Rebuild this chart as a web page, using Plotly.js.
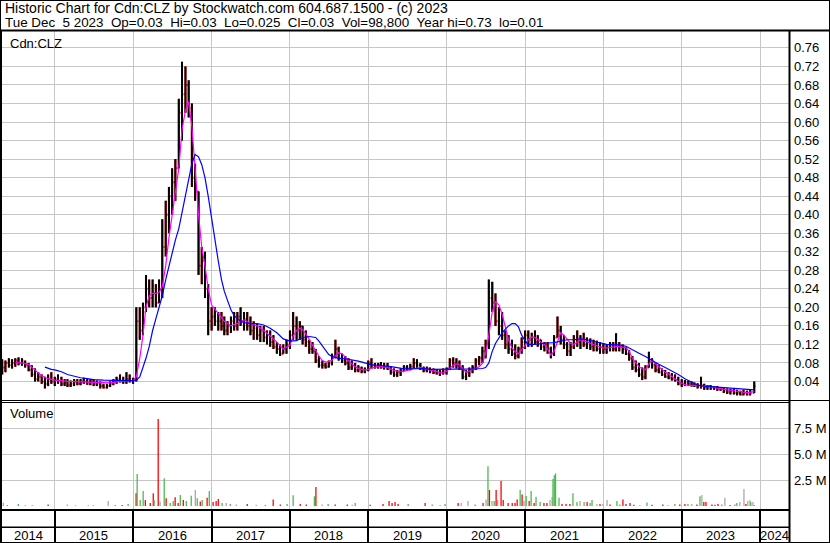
<!DOCTYPE html>
<html><head><meta charset="utf-8">
<script src="https://cdn.plot.ly/plotly-3.0.1.min.js"></script>
<style>
html,body{margin:0;padding:0;background:#fff;}
#chart{width:830px;height:543px;}
</style>
</head><body><div id="chart"></div>
<script>
// ---------- DATA ----------
const headerLines = [
  "Historic Chart for Cdn:CLZ by Stockwatch.com 604.687.1500 - (c) 2023",
  "Tue Dec  5 2023  Op=0.03  Hi=0.03  Lo=0.025  Cl=0.03  Vol=98,800  Year hi=0.73  lo=0.01"
];
const symbolLabel = "Cdn:CLZ";
const volumeLabel = "Volume";
const yearLabels = ["2014","2015","2016","2017","2018","2019","2020","2021","2022","2023","2024"];
const priceTicks = [0.04,0.08,0.12,0.16,0.20,0.24,0.28,0.32,0.36,0.40,0.44,0.48,0.52,0.56,0.60,0.64,0.68,0.72,0.76];
const volTickVals = [2.5,5.0,7.5];
const volTickText = ["2.5 M","5.0 M","7.5 M"];

const barDates = `
2014-05-01 2014-05-16 2014-06-01 2014-06-16 2014-07-01 2014-07-16 2014-08-01 2014-08-16 2014-09-01 2014-09-16 2014-10-01 2014-10-16 2014-11-01 2014-11-16 2014-12-01 2014-12-16
2015-01-01 2015-01-16 2015-02-01 2015-02-16 2015-03-01 2015-03-16 2015-04-01 2015-04-16 2015-05-01 2015-05-16 2015-06-01 2015-06-16 2015-07-01 2015-07-16 2015-08-01 2015-08-16 2015-09-01 2015-09-16 2015-10-01 2015-10-16 2015-11-01 2015-11-16 2015-12-01 2015-12-16
2016-01-01 2016-01-16 2016-02-01 2016-02-16 2016-03-01 2016-03-16 2016-04-01 2016-04-16 2016-05-01 2016-05-16 2016-06-01 2016-06-16 2016-07-01 2016-07-16 2016-08-01 2016-08-16 2016-09-01 2016-09-16 2016-10-01 2016-10-16 2016-11-01 2016-11-16 2016-12-01 2016-12-16
2017-01-01 2017-01-16 2017-02-01 2017-02-16 2017-03-01 2017-03-16 2017-04-01 2017-04-16 2017-05-01 2017-05-16 2017-06-01 2017-06-16 2017-07-01 2017-07-16 2017-08-01 2017-08-16 2017-09-01 2017-09-16 2017-10-01 2017-10-16 2017-11-01 2017-11-16 2017-12-01 2017-12-16
2018-01-01 2018-01-16 2018-02-01 2018-02-16 2018-03-01 2018-03-16 2018-04-01 2018-04-16 2018-05-01 2018-05-16 2018-06-01 2018-06-16 2018-07-01 2018-07-16 2018-08-01 2018-08-16 2018-09-01 2018-09-16 2018-10-01 2018-10-16 2018-11-01 2018-11-16 2018-12-01 2018-12-16
2019-01-01 2019-01-16 2019-02-01 2019-02-16 2019-03-01 2019-03-16 2019-04-01 2019-04-16 2019-05-01 2019-05-16 2019-06-01 2019-06-16 2019-07-01 2019-07-16 2019-08-01 2019-08-16 2019-09-01 2019-09-16 2019-10-01 2019-10-16 2019-11-01 2019-11-16 2019-12-01 2019-12-16
2020-01-01 2020-01-16 2020-02-01 2020-02-16 2020-03-01 2020-03-16 2020-04-01 2020-04-16 2020-05-01 2020-05-16 2020-06-01 2020-06-16 2020-07-01 2020-07-16 2020-08-01 2020-08-16 2020-09-01 2020-09-16 2020-10-01 2020-10-16 2020-11-01 2020-11-16 2020-12-01 2020-12-16
2021-01-01 2021-01-16 2021-02-01 2021-02-16 2021-03-01 2021-03-16 2021-04-01 2021-04-16 2021-05-01 2021-05-16 2021-06-01 2021-06-16 2021-07-01 2021-07-16 2021-08-01 2021-08-16 2021-09-01 2021-09-16 2021-10-01 2021-10-16 2021-11-01 2021-11-16 2021-12-01 2021-12-16
2022-01-01 2022-01-16 2022-02-01 2022-02-16 2022-03-01 2022-03-16 2022-04-01 2022-04-16 2022-05-01 2022-05-16 2022-06-01 2022-06-16 2022-07-01 2022-07-16 2022-08-01 2022-08-16 2022-09-01 2022-09-16 2022-10-01 2022-10-16 2022-11-01 2022-11-16 2022-12-01 2022-12-16
2023-01-01 2023-01-16 2023-02-01 2023-02-16 2023-03-01 2023-03-16 2023-04-01 2023-04-16 2023-05-01 2023-05-16 2023-06-01 2023-06-16 2023-07-01 2023-07-16 2023-08-01 2023-08-16 2023-09-01 2023-09-16 2023-10-01 2023-10-16 2023-11-01 2023-11-16 2023-12-05
`.trim().split(/\s+/);

const barOpen = [
0.075,0.07,0.08,0.075,0.08,0.085,0.08,0.082,0.075,0.065,0.055,0.045,0.05,0.04,0.035,0.045,
0.04,0.045,0.04,0.035,0.04,0.032,0.035,0.04,0.035,0.04,0.04,0.035,0.04,0.035,0.035,0.03,0.027,0.03,0.035,0.04,0.045,0.04,0.04,0.045,
0.04,0.045,0.17,0.15,0.2,0.24,0.22,0.23,0.21,0.24,0.33,0.40,0.44,0.47,0.50,0.62,0.66,0.68,0.63,0.48,0.45,0.29,0.30,0.24,
0.17,0.18,0.17,0.17,0.16,0.15,0.16,0.17,0.16,0.18,0.17,0.175,0.16,0.15,0.155,0.14,0.15,0.135,0.14,0.125,0.115,0.11,0.10,0.11,
0.12,0.14,0.16,0.15,0.16,0.13,0.125,0.11,0.105,0.085,0.075,0.075,0.072,0.08,0.095,0.11,0.09,0.085,0.08,0.07,0.075,0.065,0.068,0.062,
0.065,0.08,0.075,0.072,0.075,0.07,0.072,0.068,0.06,0.055,0.06,0.062,0.07,0.068,0.072,0.08,0.075,0.068,0.065,0.068,0.062,0.06,0.058,0.06,
0.06,0.068,0.085,0.08,0.075,0.07,0.05,0.06,0.065,0.07,0.085,0.09,0.105,0.12,0.22,0.21,0.17,0.16,0.14,0.12,0.11,0.10,0.095,0.11,
0.125,0.14,0.13,0.135,0.125,0.13,0.115,0.12,0.11,0.10,0.135,0.15,0.13,0.12,0.105,0.115,0.13,0.125,0.13,0.12,0.125,0.115,0.12,0.11,
0.115,0.11,0.115,0.12,0.11,0.12,0.115,0.11,0.10,0.09,0.07,0.065,0.055,0.05,0.07,0.085,0.075,0.065,0.06,0.055,0.05,0.048,0.045,0.042,
0.035,0.035,0.038,0.035,0.033,0.032,0.03,0.032,0.028,0.03,0.027,0.028,0.025,0.025,0.02,0.018,0.02,0.015,0.015,0.012,0.015,0.012,0.015
];
const barHigh = [
0.088,0.085,0.09,0.088,0.09,0.092,0.09,0.085,0.08,0.075,0.068,0.06,0.055,0.05,0.055,0.06,
0.05,0.055,0.05,0.045,0.045,0.042,0.045,0.045,0.045,0.048,0.045,0.045,0.045,0.042,0.04,0.035,0.035,0.04,0.045,0.05,0.055,0.05,0.06,0.055,
0.048,0.20,0.20,0.21,0.27,0.26,0.26,0.25,0.26,0.39,0.43,0.46,0.50,0.52,0.65,0.73,0.72,0.69,0.64,0.51,0.45,0.33,0.32,0.25,
0.20,0.20,0.19,0.19,0.18,0.17,0.18,0.19,0.19,0.20,0.19,0.19,0.18,0.17,0.165,0.16,0.16,0.15,0.15,0.14,0.125,0.12,0.12,0.13,
0.15,0.19,0.18,0.17,0.16,0.15,0.13,0.125,0.11,0.095,0.085,0.08,0.085,0.10,0.13,0.115,0.10,0.095,0.09,0.085,0.08,0.075,0.072,0.07,
0.085,0.09,0.08,0.08,0.082,0.08,0.08,0.072,0.068,0.065,0.068,0.075,0.075,0.078,0.09,0.088,0.08,0.072,0.072,0.07,0.068,0.066,0.065,0.068,
0.07,0.09,0.092,0.09,0.085,0.075,0.065,0.07,0.075,0.09,0.095,0.115,0.13,0.26,0.255,0.23,0.20,0.19,0.15,0.14,0.13,0.12,0.115,0.135,
0.15,0.15,0.145,0.15,0.14,0.13,0.125,0.125,0.115,0.14,0.18,0.16,0.14,0.125,0.125,0.14,0.15,0.14,0.145,0.135,0.133,0.13,0.128,0.125,
0.122,0.12,0.125,0.125,0.144,0.125,0.12,0.115,0.108,0.095,0.085,0.08,0.07,0.075,0.104,0.09,0.08,0.075,0.068,0.065,0.06,0.058,0.055,0.05,
0.045,0.043,0.042,0.04,0.038,0.036,0.05,0.035,0.032,0.032,0.03,0.03,0.028,0.026,0.025,0.024,0.024,0.022,0.02,0.022,0.02,0.022,0.04
];
const barLow = [
0.055,0.06,0.07,0.068,0.072,0.075,0.074,0.07,0.062,0.05,0.04,0.04,0.035,0.025,0.03,0.035,
0.03,0.035,0.03,0.03,0.028,0.028,0.03,0.032,0.032,0.035,0.033,0.032,0.03,0.03,0.025,0.025,0.025,0.028,0.032,0.035,0.038,0.035,0.035,0.038,
0.035,0.04,0.13,0.14,0.19,0.20,0.20,0.20,0.21,0.22,0.31,0.36,0.40,0.43,0.50,0.56,0.62,0.61,0.46,0.43,0.27,0.25,0.22,0.14,
0.15,0.16,0.15,0.15,0.14,0.14,0.145,0.15,0.15,0.16,0.15,0.15,0.14,0.13,0.13,0.125,0.125,0.12,0.115,0.11,0.10,0.095,0.10,0.10,
0.11,0.13,0.13,0.13,0.12,0.115,0.10,0.10,0.08,0.07,0.068,0.068,0.07,0.075,0.09,0.085,0.08,0.075,0.065,0.065,0.06,0.06,0.058,0.058,
0.062,0.068,0.068,0.068,0.068,0.066,0.065,0.055,0.05,0.05,0.052,0.062,0.063,0.064,0.068,0.068,0.065,0.06,0.06,0.058,0.056,0.055,0.052,0.055,
0.055,0.065,0.07,0.068,0.065,0.045,0.043,0.05,0.058,0.065,0.075,0.08,0.09,0.11,0.19,0.16,0.14,0.13,0.11,0.10,0.095,0.088,0.09,0.10,
0.11,0.115,0.115,0.12,0.115,0.108,0.105,0.10,0.09,0.095,0.135,0.12,0.11,0.095,0.095,0.11,0.115,0.11,0.115,0.11,0.108,0.105,0.105,0.10,
0.10,0.10,0.105,0.105,0.105,0.105,0.10,0.097,0.085,0.065,0.06,0.05,0.043,0.045,0.07,0.068,0.06,0.058,0.052,0.048,0.045,0.042,0.04,0.032,
0.028,0.03,0.03,0.029,0.028,0.025,0.025,0.022,0.022,0.022,0.022,0.02,0.02,0.015,0.013,0.012,0.012,0.01,0.01,0.01,0.01,0.01,0.015
];
const barClose = [
0.07,0.08,0.075,0.08,0.085,0.08,0.085,0.075,0.065,0.055,0.045,0.05,0.04,0.035,0.045,0.04,
0.045,0.04,0.035,0.04,0.032,0.035,0.04,0.035,0.04,0.04,0.035,0.04,0.035,0.035,0.03,0.027,0.03,0.035,0.04,0.045,0.04,0.04,0.045,0.045,
0.045,0.17,0.15,0.19,0.24,0.22,0.23,0.21,0.24,0.33,0.40,0.44,0.47,0.50,0.62,0.66,0.68,0.63,0.48,0.45,0.29,0.30,0.24,0.17,
0.18,0.17,0.17,0.16,0.15,0.16,0.17,0.16,0.18,0.17,0.175,0.16,0.15,0.155,0.14,0.15,0.135,0.14,0.125,0.115,0.11,0.10,0.11,0.12,
0.14,0.16,0.15,0.16,0.13,0.125,0.11,0.105,0.085,0.075,0.075,0.072,0.08,0.095,0.11,0.09,0.085,0.08,0.07,0.075,0.065,0.068,0.062,0.065,
0.08,0.075,0.072,0.075,0.07,0.072,0.068,0.06,0.055,0.06,0.062,0.07,0.068,0.072,0.08,0.075,0.068,0.065,0.068,0.062,0.06,0.058,0.06,0.062,
0.068,0.085,0.08,0.075,0.07,0.05,0.06,0.065,0.07,0.085,0.09,0.105,0.12,0.22,0.21,0.17,0.16,0.14,0.12,0.11,0.10,0.095,0.11,0.125,
0.14,0.13,0.135,0.125,0.13,0.115,0.12,0.11,0.10,0.135,0.15,0.13,0.12,0.105,0.115,0.13,0.125,0.13,0.12,0.125,0.115,0.12,0.11,0.115,
0.11,0.115,0.12,0.11,0.12,0.115,0.11,0.10,0.09,0.07,0.065,0.055,0.05,0.07,0.085,0.075,0.065,0.06,0.055,0.05,0.048,0.045,0.042,0.035,
0.035,0.038,0.035,0.033,0.032,0.03,0.032,0.028,0.03,0.027,0.028,0.025,0.025,0.02,0.018,0.02,0.015,0.015,0.012,0.015,0.012,0.015,0.03
];

// magenta (short) moving average
const maShortDates = `
2014-07-01 2014-08-01 2014-09-01 2014-10-01 2014-11-01 2014-12-01 2015-01-01 2015-03-01 2015-06-01 2015-09-16 2015-11-01 2015-12-16
2016-01-01 2016-01-16 2016-02-01 2016-02-16 2016-03-01 2016-03-16 2016-04-01 2016-04-16 2016-05-01 2016-05-16 2016-06-01 2016-06-16 2016-07-01 2016-07-16 2016-08-01 2016-08-16 2016-09-01 2016-09-16 2016-10-01 2016-10-16 2016-11-01 2016-11-16 2016-12-01 2016-12-16
2017-01-01 2017-02-01 2017-03-01 2017-04-01 2017-05-01 2017-06-01 2017-07-01 2017-08-01 2017-09-01 2017-10-01 2017-11-01 2017-12-01
2018-01-01 2018-01-16 2018-02-01 2018-02-16 2018-03-01 2018-03-16 2018-04-01 2018-04-16 2018-05-01 2018-05-16 2018-06-01 2018-06-16 2018-07-01 2018-07-16 2018-08-01 2018-08-16 2018-09-01 2018-09-16 2018-10-01 2018-10-16 2018-11-01 2018-11-16 2018-12-01 2018-12-16
2019-01-01 2019-02-01 2019-03-01 2019-04-01 2019-05-01 2019-06-01 2019-07-01 2019-08-01 2019-09-01 2019-10-01 2019-11-01 2019-12-01 2019-12-16
2020-01-01 2020-01-16 2020-02-01 2020-02-16 2020-03-01 2020-03-16 2020-04-01 2020-04-16 2020-05-01 2020-05-16 2020-06-01 2020-06-16 2020-07-01 2020-07-16 2020-08-01 2020-08-16 2020-09-01 2020-09-16 2020-10-01 2020-10-16 2020-11-01 2020-11-16 2020-12-01 2020-12-16
2021-01-01 2021-01-16 2021-02-01 2021-02-16 2021-03-01 2021-03-16 2021-04-01 2021-04-16 2021-05-01 2021-05-16 2021-06-01 2021-06-16 2021-07-01 2021-07-16 2021-08-01 2021-08-16 2021-09-01 2021-09-16 2021-10-01 2021-10-16 2021-11-01 2021-11-16 2021-12-01 2021-12-16
2022-01-01 2022-02-01 2022-03-01 2022-04-01 2022-04-16 2022-05-01 2022-05-16 2022-06-01 2022-06-16 2022-07-01 2022-07-16 2022-08-01 2022-08-16 2022-09-01 2022-09-16 2022-10-01 2022-10-16 2022-11-01 2022-11-16 2022-12-01 2022-12-16
2023-01-01 2023-01-16 2023-02-01 2023-03-01 2023-04-01 2023-05-01 2023-06-01 2023-07-01 2023-08-01 2023-09-01 2023-10-01 2023-11-01 2023-12-05
`.trim().split(/\s+/);
const maShortVals = [
0.08,0.08,0.077,0.065,0.052,0.046,0.043,0.04,0.039,0.037,0.04,0.041,
0.042,0.05,0.09,0.14,0.20,0.225,0.23,0.23,0.232,0.245,0.29,0.35,0.40,0.45,0.50,0.583,0.625,0.644,0.59,0.50,0.40,0.33,0.29,0.24,
0.205,0.187,0.17,0.16,0.165,0.173,0.165,0.16,0.15,0.138,0.125,0.11,
0.118,0.138,0.15,0.155,0.152,0.143,0.13,0.118,0.106,0.095,0.085,0.082,0.083,0.086,0.095,0.102,0.10,0.092,0.085,0.078,0.072,0.068,0.066,0.065,
0.066,0.071,0.072,0.07,0.064,0.061,0.064,0.068,0.07,0.067,0.063,0.059,0.058,
0.062,0.068,0.075,0.078,0.076,0.068,0.06,0.062,0.066,0.068,0.072,0.079,0.10,0.14,0.19,0.212,0.205,0.185,0.155,0.13,0.112,0.104,0.10,0.108,
0.118,0.13,0.136,0.135,0.13,0.125,0.12,0.11,0.097,0.105,0.125,0.145,0.14,0.13,0.122,0.12,0.125,0.13,0.128,0.126,0.122,0.12,0.118,0.115,
0.112,0.113,0.116,0.115,0.113,0.105,0.09,0.08,0.072,0.067,0.065,0.078,0.086,0.078,0.072,0.065,0.06,0.056,0.05,0.045,0.04,
0.036,0.033,0.032,0.032,0.031,0.03,0.027,0.025,0.022,0.02,0.018,0.016,0.018
];

// blue (long) moving average
const maLongDates = `
2014-11-16 2014-12-01 2014-12-16 2015-01-01 2015-02-01 2015-03-01 2015-04-01 2015-05-01 2015-06-01 2015-07-01 2015-08-16 2015-10-01 2015-12-01
2016-01-01 2016-01-16 2016-02-01 2016-02-16 2016-03-01 2016-03-16 2016-04-01 2016-04-16 2016-05-01 2016-05-16 2016-06-01 2016-06-16 2016-07-01 2016-07-16 2016-08-01 2016-08-16 2016-09-01 2016-09-16 2016-10-01 2016-10-16 2016-11-01 2016-11-16 2016-12-01 2016-12-16
2017-01-01 2017-01-16 2017-02-01 2017-02-16 2017-03-01 2017-03-16 2017-04-01 2017-04-16 2017-05-01 2017-05-16 2017-06-01 2017-07-01 2017-08-01 2017-09-01 2017-10-01 2017-11-01 2017-12-01
2018-01-01 2018-02-01 2018-03-01 2018-04-01 2018-05-01 2018-05-16 2018-06-01 2018-06-16 2018-07-01 2018-07-16 2018-08-16 2018-09-16 2018-10-16 2018-11-16 2018-12-16
2019-01-16 2019-02-16 2019-03-16 2019-04-16 2019-05-16 2019-06-16 2019-07-16 2019-08-16 2019-09-16 2019-10-16 2019-11-16 2019-12-16
2020-01-16 2020-02-16 2020-04-01 2020-05-16 2020-06-16 2020-07-01 2020-07-16 2020-08-01 2020-08-16 2020-09-01 2020-09-16 2020-10-01 2020-10-16 2020-11-01 2020-11-16 2020-12-01 2020-12-16
2021-01-01 2021-01-16 2021-02-16 2021-03-16 2021-04-16 2021-05-16 2021-06-16 2021-07-16 2021-08-16 2021-09-16 2021-10-16 2021-11-16 2021-12-16
2022-01-16 2022-02-16 2022-03-16 2022-04-16 2022-05-16 2022-06-16 2022-07-16 2022-08-16 2022-09-16 2022-10-16 2022-11-16 2022-12-16
2023-01-16 2023-02-16 2023-03-16 2023-04-16 2023-05-16 2023-06-16 2023-07-16 2023-08-16 2023-09-16 2023-10-16 2023-11-16 2023-12-05
`.trim().split(/\s+/);
const maLongVals = [
0.071,0.068,0.066,0.065,0.061,0.055,0.051,0.048,0.046,0.044,0.043,0.042,0.042,
0.042,0.043,0.05,0.07,0.09,0.115,0.15,0.175,0.20,0.225,0.26,0.29,0.315,0.345,0.37,0.405,0.44,0.475,0.51,0.53,0.525,0.508,0.48,0.44,
0.39,0.34,0.30,0.26,0.235,0.215,0.195,0.182,0.175,0.17,0.167,0.165,0.165,0.162,0.155,0.145,0.132,
0.127,0.128,0.135,0.137,0.135,0.127,0.117,0.106,0.098,0.094,0.09,0.089,0.087,0.084,0.08,
0.076,0.075,0.074,0.072,0.07,0.067,0.067,0.068,0.068,0.066,0.066,0.066,
0.066,0.067,0.067,0.067,0.068,0.07,0.08,0.105,0.122,0.135,0.145,0.153,0.16,0.165,0.165,0.158,0.14,
0.128,0.12,0.12,0.122,0.123,0.124,0.127,0.13,0.13,0.132,0.13,0.127,0.123,
0.12,0.119,0.119,0.116,0.108,0.101,0.094,0.085,0.077,0.07,0.063,0.055,
0.046,0.038,0.032,0.03,0.029,0.028,0.027,0.026,0.025,0.024,0.022,0.022
];

// daily volume spikes (millions of shares); u = up day, d = down day, n = unchanged
const volDates = `
2014-05-06 2014-05-25 2014-07-15 2014-08-17 2014-09-18 2014-12-01 2015-02-28 2015-04-07 2015-06-06 2015-06-29 2015-09-07 2015-10-10 2015-11-11 2015-12-09
2016-01-15 2016-01-20 2016-02-03 2016-02-17 2016-02-27 2016-03-21 2016-04-04 2016-04-08 2016-04-27 2016-05-06 2016-05-25 2016-06-03 2016-06-22 2016-07-06 2016-07-15 2016-07-29 2016-08-08 2016-08-22 2016-09-05 2016-09-28 2016-10-17 2016-10-26 2016-11-09 2016-11-18 2016-12-11 2016-12-21
2017-01-08 2017-01-22 2017-02-01 2017-02-19 2017-03-10 2017-03-29 2017-04-26 2017-06-16 2017-07-28 2017-09-08 2017-10-15 2017-11-17 2017-12-19
2018-01-16 2018-02-18 2018-03-18 2018-04-25 2018-05-02 2018-05-31 2018-06-28 2018-07-31 2018-09-25 2018-10-18 2018-11-01
2019-01-10 2019-03-11 2019-04-08 2019-04-22 2019-05-06 2019-05-20 2019-07-06 2019-09-23 2019-10-26 2019-12-02 2019-12-25
2020-02-24 2020-03-09 2020-04-10 2020-05-13 2020-06-19 2020-07-03 2020-07-12 2020-07-19 2020-07-31 2020-08-10 2020-08-19 2020-08-26 2020-09-11 2020-09-21 2020-10-14 2020-11-02 2020-11-15 2020-11-25 2020-12-09 2020-12-18 2020-12-27
2021-01-06 2021-01-20 2021-01-29 2021-02-12 2021-02-21 2021-03-12 2021-03-30 2021-04-13 2021-04-27 2021-05-07 2021-05-11 2021-05-17 2021-05-23 2021-06-08 2021-06-22 2021-07-11 2021-07-29 2021-08-12 2021-08-31 2021-09-14 2021-10-03 2021-10-17 2021-10-31 2021-11-09 2021-12-02 2021-12-16 2021-12-30
2022-01-18 2022-02-01 2022-03-05 2022-03-19 2022-04-02 2022-04-16 2022-05-05 2022-05-23 2022-06-20 2022-07-23 2022-08-15 2022-10-05 2022-10-28 2022-11-30 2022-12-23
2023-01-16 2023-01-30 2023-02-17 2023-03-13 2023-03-27 2023-04-05 2023-04-14 2023-04-24 2023-05-22 2023-06-05 2023-06-19 2023-07-07 2023-07-21 2023-08-14 2023-09-06 2023-09-15 2023-09-29 2023-10-18 2023-10-27 2023-11-05 2023-11-15 2023-11-19 2023-11-29 2023-12-05
`.trim().split(/\s+/);
const volValues = [
0.33,0.11,0.2,0.1,0.08,0.15,0.15,0.08,0.08,0.08,0.49,0.1,0.1,0.2,
1.24,3.11,0.6,1.46,0.6,0.3,1.24,0.6,8.44,0.45,2.69,0.75,0.3,0.5,0.85,0.3,1.08,0.6,0.5,1.01,1.56,0.75,0.45,0.6,0.82,1.46,
0.4,0.5,0.69,0.3,0.3,0.2,0.15,0.2,0.12,0.1,0.65,0.15,0.2,
1.05,0.2,0.15,0.95,1.85,0.15,0.2,0.15,0.15,0.12,0.3,
0.12,0.2,0.5,0.3,0.4,0.2,0.2,0.3,0.15,0.1,0.2,
0.3,0.3,0.5,0.15,0.3,0.65,3.85,1.56,0.5,0.5,1.56,0.6,2.43,0.6,0.3,0.3,0.3,0.65,1.56,1.13,0.5,
0.98,0.5,1.46,0.3,0.91,0.4,0.3,0.3,0.6,0.9,2.62,3.0,3.17,0.8,0.2,0.2,0.2,1.24,0.4,0.5,0.4,0.4,0.3,0.6,0.2,0.2,0.2,
0.6,0.15,0.5,0.15,0.65,0.2,0.3,0.12,0.1,0.35,0.12,0.15,0.1,0.2,0.15,
0.2,0.2,0.2,0.15,0.95,1.08,0.4,0.4,0.15,0.12,0.2,0.15,0.82,0.1,0.15,0.3,0.4,1.66,0.2,0.5,0.6,0.4,0.4,0.1
];
const volDir = (
"n u u n u d n n u u n u d u " +
"d u u u d d d u d n u d u u d d u d u u n u d u d u " +
"d d d u n u n d n u d d u " +
"u d d u d n u d d n u " +
"d d d d d d u d u n u " +
"d n n u d n u d n u d n d d d d d d u d n " +
"u d u d u u d d n n u u u u d d d u u n u d u u n d n " +
"n d u u d d d d n u d d n u d " +
"d u n d u n d d d d d u n d u u n n d n n u n u"
).trim().split(/\s+/);

// ---------- STYLE / LAYOUT ----------
const W = 830, H = 543;
const FONT = "'Liberation Sans', Arial, sans-serif";
const px = v => v / W;
const py = v => (H - v) / H;
const xRange = ['2014-04-30', '2024-05-15'];
const gridC = '#c6c6c6';
const volColor = {u: '#4db84d', d: '#ff0000', n: '#a8a8a8'};

const baseX = {
  type: 'date', range: xRange, domain: [px(2), px(789)],
  showgrid: true, gridcolor: gridC, gridwidth: 1,
  tick0: '2014-01-01', dtick: 'M12', showticklabels: false, ticks: '',
  zeroline: false, showline: false, fixedrange: true,
  rangeslider: {visible: false}
};

const traces = [
  {type: 'ohlc', x: barDates, open: barOpen, high: barHigh, low: barLow, close: barClose,
   xaxis: 'x', yaxis: 'y', tickwidth: 0.5, hoverinfo: 'skip',
   increasing: {line: {color: '#ff0000', width: 2}}, decreasing: {line: {color: '#ff0000', width: 2}}},
  {type: 'ohlc', x: barDates, open: barOpen, high: barHigh, low: barLow, close: barClose,
   xaxis: 'x', yaxis: 'y', tickwidth: 0, hoverinfo: 'skip',
   increasing: {line: {color: '#000000', width: 2}}, decreasing: {line: {color: '#000000', width: 2}}},
  {type: 'scatter', mode: 'lines', x: maShortDates, y: maShortVals, xaxis: 'x', yaxis: 'y',
   line: {color: '#ff00ff', width: 1.2}, hoverinfo: 'skip'},
  {type: 'scatter', mode: 'lines', x: maLongDates, y: maLongVals, xaxis: 'x', yaxis: 'y',
   line: {color: '#0000ff', width: 1.2}, hoverinfo: 'skip'},
  {type: 'bar', x: volDates, y: volValues, xaxis: 'x2', yaxis: 'y2',
   width: 6 * 86400000, marker: {color: volDir.map(d => volColor[d]), line: {width: 0}}, hoverinfo: 'skip'},
  {type: 'scatter', mode: 'markers', x: [], y: [], xaxis: 'x3', yaxis: 'y3', hoverinfo: 'skip'}
];

const shapes = [];
function hline(y, x0, x1, w) { shapes.push({type: 'line', xref: 'paper', yref: 'paper', x0: x0, x1: x1, y0: py(y), y1: py(y), line: {color: '#000', width: w}}); }
function vline(x, y0, y1, w) { shapes.push({type: 'line', xref: 'paper', yref: 'paper', x0: px(x), x1: px(x), y0: py(y0), y1: py(y1), line: {color: '#000', width: w}}); }
shapes.push({type: 'rect', xref: 'paper', yref: 'paper', x0: 0, x1: 1, y0: 0, y1: 1, line: {color: '#000', width: 2}});
hline(30.5, 0, 1, 2);
hline(400.5, 0, 1, 1);
hline(402.5, 0, px(789), 1);
hline(510, 0, px(789), 2);
hline(527.3, 0, px(789), 1.5);
vline(1, 30, 543, 2);
vline(789.5, 30, 543, 2);

const annotations = [];
const headerY = [7.8, 22.6];
const headerSize = [14, 13.4];
headerLines.forEach((t, i) => {
  annotations.push({xref: 'paper', yref: 'paper', x: px(3), y: py(headerY[i]), xanchor: 'left', yanchor: 'middle',
    text: t.replace(/ {2}/g, '\u00a0\u00a0'), showarrow: false, font: {family: FONT, size: headerSize[i], color: '#000'}});
});
annotations.push({xref: 'paper', yref: 'paper', x: px(8), y: py(43), xanchor: 'left', yanchor: 'middle',
  text: symbolLabel, showarrow: false, font: {family: FONT, size: 13, color: '#000'}});
annotations.push({xref: 'paper', yref: 'paper', x: px(8), y: py(413.5), xanchor: 'left', yanchor: 'middle',
  text: volumeLabel, showarrow: false, font: {family: FONT, size: 13, color: '#000'}});
const r0 = Date.parse(xRange[0]), r1 = Date.parse(xRange[1]);
yearLabels.forEach(y => {
  const s = Math.max(r0, Date.UTC(+y, 0, 1)), e = Math.min(r1, Date.UTC(+y + 1, 0, 1));
  const mid = new Date((s + e) / 2).toISOString().slice(0, 10);
  annotations.push({xref: 'x3', yref: 'paper', x: mid, y: py(535), xanchor: 'center', yanchor: 'middle',
    text: y, showarrow: false, font: {family: FONT, size: 13, color: '#000'}});
});

const layout = {
  width: W, height: H, margin: {l: 0, r: 0, t: 0, b: 0, pad: 0},
  paper_bgcolor: '#ffffff', plot_bgcolor: '#ffffff', showlegend: false, hovermode: false, dragmode: false,
  font: {family: FONT, size: 13, color: '#000'},
  barmode: 'overlay',
  xaxis: Object.assign({}, baseX, {anchor: 'y'}),
  xaxis2: Object.assign({}, baseX, {anchor: 'y2'}),
  xaxis3: Object.assign({}, baseX, {anchor: 'y3', gridcolor: '#000000', gridwidth: 2}),
  yaxis: {domain: [py(400), py(31)], range: [0, 0.7965], side: 'right', anchor: 'x',
    tickvals: priceTicks, tickformat: '.2f', showgrid: true, gridcolor: gridC, gridwidth: 1,
    zeroline: false, showline: false, ticks: '', ticklabelstandoff: 4, fixedrange: true,
    tickfont: {family: FONT, size: 13, color: '#000'}},
  yaxis2: {domain: [py(509), py(403)], range: [-0.28, 9.99], side: 'right', anchor: 'x2',
    tickvals: volTickVals, ticktext: volTickText, showgrid: true, gridcolor: gridC, gridwidth: 1,
    zeroline: false, showline: false, ticks: '', ticklabelstandoff: 4, fixedrange: true,
    tickfont: {family: FONT, size: 13, color: '#000'}},
  yaxis3: {domain: [py(542), py(511)], range: [0, 1], anchor: 'x3', showgrid: false, showticklabels: false,
    zeroline: false, showline: false, ticks: '', fixedrange: true},
  shapes: shapes,
  annotations: annotations
};

Plotly.newPlot('chart', traces, layout, {staticPlot: true, displayModeBar: false});
</script>
</body></html>
